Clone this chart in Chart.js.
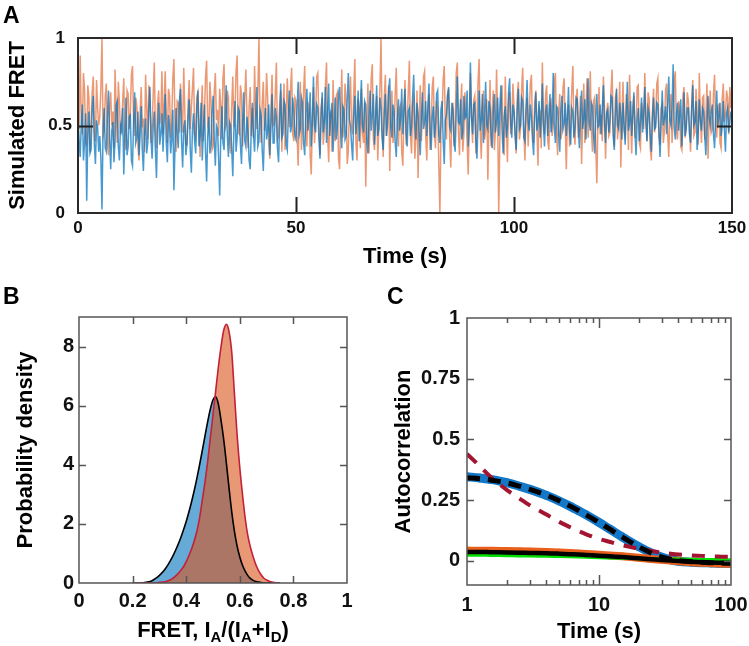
<!DOCTYPE html>
<html><head><meta charset="utf-8">
<script src="https://cdn.jsdelivr.net/npm/chart.js@4.4.1/dist/chart.umd.min.js"></script>
<style>
html,body{margin:0;padding:0;background:#fff;}
#wrap{position:relative;width:749px;height:646px;overflow:hidden;background:#fff;}
canvas{position:absolute;}
.lbl{position:absolute;font:bold 23px 'Liberation Sans',Arial,sans-serif;line-height:23px;color:#000;}
</style></head><body>
<div id="wrap">
<canvas id="cA" width="749" height="280" style="left:0;top:0"></canvas>
<canvas id="cB" width="370" height="356" style="left:0;top:290px"></canvas>
<canvas id="cC" width="379" height="356" style="left:370px;top:290px"></canvas>
<div class="lbl" style="left:3px;top:4px">A</div>
<div class="lbl" style="left:3px;top:285px">B</div>
<div class="lbl" style="left:387px;top:285px">C</div>
</div>
<script>
const FONT = "'Liberation Sans', Arial, Helvetica, sans-serif";

// ---------- Panel A: simulated FRET traces (sampled every 0.25 s) ----------
const sampleStepA = 0.25;
const fretOrange = [
0.62,0.48,0.9,0.55,0.45,0.8,0.71,0.42,0.38,0.73,0.66,0.35,0.52,0.69,0.78,0.46,0.41,0.76,0.6,0.5,
0.55,0.72,1.0,0.44,0.47,0.67,0.74,0.39,0.33,0.61,0.69,0.5,0.58,0.37,0.82,0.6,0.4,0.75,0.63,0.45,
0.5,0.64,0.77,0.41,0.36,0.7,0.68,0.48,0.57,0.79,0.84,0.53,0.44,0.66,0.61,0.38,0.3,0.58,0.72,0.49,
0.54,0.35,0.79,0.6,0.42,0.73,0.65,0.4,0.49,0.68,0.86,0.47,0.37,0.62,0.7,0.51,0.56,0.81,0.45,0.63,
0.81,0.55,0.4,0.71,0.67,0.43,0.52,0.77,0.88,0.5,0.35,0.64,0.63,0.46,0.74,0.57,0.46,0.83,0.58,0.39,
0.39,0.62,0.76,0.48,0.6,0.71,0.83,0.45,0.43,0.66,0.69,0.52,0.32,0.58,0.73,0.41,0.55,0.78,0.87,0.5,
0.47,0.75,0.64,0.36,0.38,0.69,0.8,0.53,0.59,0.44,0.71,0.62,0.42,0.77,0.85,0.48,0.5,0.7,0.66,0.4,
0.34,0.6,0.78,0.49,0.57,0.81,0.9,0.46,0.45,0.73,0.68,0.38,0.53,0.65,0.82,0.56,0.37,0.61,0.72,0.44,
0.6,0.43,0.84,0.58,0.48,0.7,1.0,0.52,0.4,0.63,0.75,0.47,0.56,0.8,0.66,0.39,0.31,0.59,0.79,0.5,
0.51,0.68,0.86,0.42,0.44,0.62,0.7,0.35,0.58,0.74,0.36,0.55,0.77,0.6,0.49,0.71,0.83,0.45,0.41,0.66,
0.64,0.44,0.27,0.58,0.75,0.36,0.5,0.7,0.84,0.47,0.38,0.63,0.61,0.33,0.22,0.54,0.72,0.4,0.55,0.78,
0.8,0.52,0.33,0.6,0.66,0.39,0.47,0.73,0.86,0.45,0.29,0.57,0.58,0.35,0.76,0.5,0.41,0.67,0.69,0.31,
0.25,0.56,0.82,0.43,0.52,0.74,0.63,0.28,0.35,0.61,0.78,0.49,0.45,0.69,0.88,0.4,0.3,0.65,0.6,0.37,
0.71,0.46,0.4,0.63,0.15,0.5,0.74,0.34,0.53,0.77,0.85,0.42,0.36,0.59,0.67,0.3,0.49,0.72,1.0,0.48,
0.32,0.66,0.79,0.44,0.57,0.73,0.24,0.55,0.7,0.4,0.46,0.68,0.83,0.51,0.38,0.6,0.62,0.35,0.27,0.58,
0.76,0.39,0.51,0.69,0.87,0.45,0.34,0.62,0.65,0.31,0.43,0.7,0.2,0.52,0.73,0.41,0.56,0.78,0.81,0.44,
0.3,0.59,0.68,0.36,0.48,0.72,0.78,0.45,0.37,0.64,0.6,0.28,0.0,0.47,0.55,0.76,0.84,0.5,0.42,0.67,
0.71,0.43,0.26,0.57,0.63,0.38,0.5,0.8,0.86,0.46,0.33,0.61,0.74,0.35,0.45,0.69,0.58,0.4,0.22,0.54,
0.8,0.56,0.4,0.64,0.67,0.34,0.53,0.75,0.88,0.48,0.31,0.6,0.7,0.42,0.47,0.65,0.19,0.51,0.76,0.38,
0.57,0.7,0.36,0.48,0.82,0.55,0.0,0.41,0.64,0.73,0.44,0.33,0.78,0.5,0.29,0.62,0.69,0.45,0.52,0.74,
0.61,0.45,0.34,0.67,0.75,0.42,0.48,0.71,0.83,0.5,0.3,0.58,0.66,0.38,0.55,0.74,0.79,0.46,0.4,0.63,
0.7,0.49,0.27,0.6,0.58,0.37,0.86,0.52,0.45,0.68,0.73,0.41,0.36,0.62,0.64,0.44,0.51,0.76,0.8,0.47,
0.33,0.57,0.68,0.42,0.47,0.72,0.77,0.5,0.25,0.55,0.62,0.38,0.54,0.7,0.84,0.46,0.39,0.65,0.71,0.43,
0.5,0.67,0.28,0.53,0.74,0.4,0.59,0.77,0.43,0.6,0.81,0.48,0.35,0.64,0.66,0.39,0.17,0.52,0.72,0.45,
0.56,0.41,0.78,0.6,0.31,0.58,0.63,0.44,0.46,0.7,0.82,0.5,0.38,0.66,0.69,0.42,0.52,0.75,0.26,0.55,
0.75,0.47,0.44,0.68,0.6,0.36,0.79,0.54,0.34,0.61,0.67,0.43,0.49,0.72,0.73,0.4,0.37,0.63,0.58,0.48,
0.8,0.55,0.41,0.69,0.65,0.37,0.3,0.57,0.71,0.46,0.53,0.74,0.77,0.44,0.39,0.6,0.62,0.4,0.47,0.7,
0.74,0.45,0.32,0.59,0.68,0.4,0.55,0.76,0.81,0.49,0.42,0.64,0.6,0.38,0.36,0.67,0.72,0.43,0.5,0.69,
0.64,0.48,0.35,0.62,0.76,0.44,0.46,0.71,0.58,0.39,0.8,0.53,0.4,0.66,0.67,0.42,0.53,0.74,0.31,0.56,
0.7,0.46,0.48,0.68,0.79,0.5,0.43,0.61,0.62,0.4,0.37,0.65,0.74,0.52,0.56,0.7,0.66,0.45,0.72,0.6];
const fretBlue = [
0.55,0.42,0.32,0.51,0.62,0.3,0.4,0.57,0.07,0.45,0.58,0.34,0.36,0.6,0.67,0.39,0.28,0.53,0.49,0.35,
0.44,0.31,0.02,0.48,0.6,0.37,0.35,0.56,0.7,0.43,0.25,0.47,0.52,0.29,0.41,0.62,0.64,0.38,0.3,0.5,
0.47,0.6,0.22,0.44,0.66,0.33,0.38,0.55,0.56,0.3,0.27,0.52,0.69,0.4,0.43,0.58,0.33,0.46,0.61,0.36,
0.24,0.45,0.54,0.34,0.4,0.61,0.72,0.42,0.31,0.5,0.58,0.36,0.2,0.48,0.63,0.39,0.45,0.57,0.35,0.52,
0.68,0.4,0.29,0.56,0.5,0.34,0.42,0.59,0.13,0.38,0.6,0.45,0.37,0.64,0.71,0.41,0.26,0.49,0.53,0.33,
0.4,0.55,0.65,0.36,0.23,0.48,0.57,0.41,0.34,0.6,0.7,0.38,0.44,0.63,0.3,0.46,0.62,0.35,0.18,0.44,
0.55,0.34,0.39,0.58,0.67,0.42,0.27,0.5,0.48,0.31,0.1,0.45,0.61,0.4,0.36,0.56,0.73,0.44,0.32,0.52,
0.5,0.37,0.21,0.47,0.64,0.35,0.43,0.6,0.58,0.39,0.28,0.51,0.69,0.41,0.38,0.55,0.46,0.3,0.25,0.49,
0.63,0.44,0.35,0.54,0.72,0.38,0.41,0.59,0.56,0.36,0.24,0.46,0.6,0.42,0.47,0.62,0.33,0.5,0.68,0.4,
0.4,0.6,0.55,0.37,0.29,0.52,0.74,0.43,0.45,0.64,0.62,0.39,0.36,0.57,0.7,0.46,0.5,0.66,0.58,0.44,
0.42,0.6,0.75,0.45,0.48,0.66,0.63,0.4,0.33,0.57,0.71,0.47,0.55,0.69,0.38,0.52,0.78,0.5,0.46,0.62,
0.6,0.43,0.31,0.55,0.69,0.46,0.52,0.72,0.4,0.58,0.74,0.44,0.57,0.63,0.35,0.51,0.66,0.42,0.49,0.68,
0.72,0.48,0.37,0.61,0.59,0.42,0.44,0.65,0.8,0.53,0.5,0.39,0.3,0.56,0.67,0.45,0.54,0.7,0.41,0.6,
0.76,0.5,0.46,0.64,0.62,0.41,0.34,0.55,0.7,0.47,0.56,0.68,0.39,0.52,0.73,0.44,0.48,0.66,0.6,0.43,
0.36,0.57,0.68,0.44,0.51,0.7,0.77,0.49,0.43,0.62,0.58,0.4,0.32,0.54,0.65,0.47,0.53,0.71,0.45,0.59,
0.71,0.46,0.38,0.58,0.6,0.44,0.49,0.67,0.79,0.51,0.42,0.63,0.57,0.45,0.33,0.55,0.69,0.48,0.52,0.64,
0.44,0.6,0.74,0.47,0.36,0.55,0.61,0.43,0.5,0.68,0.7,0.45,0.4,0.59,0.64,0.42,0.28,0.53,0.56,0.67,
0.72,0.49,0.47,0.63,0.59,0.41,0.35,0.57,0.78,0.52,0.51,0.65,0.42,0.46,0.67,0.54,0.55,0.7,0.38,0.5,
0.86,0.55,0.45,0.62,0.63,0.42,0.31,0.51,0.7,0.47,0.53,0.68,0.4,0.56,0.75,0.5,0.48,0.64,0.6,0.44,
0.37,0.58,0.68,0.46,0.52,0.66,0.44,0.6,0.73,0.48,0.34,0.55,0.61,0.43,0.49,0.69,0.77,0.51,0.43,0.62,
0.58,0.45,0.36,0.6,0.71,0.48,0.5,0.66,0.64,0.43,0.41,0.59,0.76,0.52,0.47,0.62,0.55,0.42,0.33,0.56,
0.69,0.47,0.52,0.64,0.43,0.55,0.74,0.5,0.38,0.58,0.62,0.44,0.57,0.68,0.46,0.53,0.8,0.49,0.4,0.61,
0.6,0.46,0.35,0.57,0.67,0.48,0.51,0.63,0.44,0.55,0.72,0.47,0.39,0.6,0.58,0.43,0.49,0.66,0.65,0.5,
0.37,0.56,0.7,0.48,0.54,0.65,0.42,0.59,0.77,0.52,0.47,0.63,0.61,0.45,0.34,0.55,0.68,0.49,0.5,0.62,
0.45,0.6,0.73,0.51,0.4,0.57,0.59,0.46,0.53,0.67,0.66,0.44,0.36,0.55,0.71,0.5,0.48,0.63,0.56,0.42,
0.63,0.5,0.39,0.58,0.75,0.47,0.51,0.64,0.44,0.56,0.69,0.45,0.33,0.53,0.6,0.41,0.52,0.66,0.46,0.57,
0.72,0.52,0.41,0.6,0.57,0.44,0.35,0.55,0.66,0.48,0.49,0.63,0.62,0.46,0.32,0.53,0.7,0.5,0.54,0.61,
0.45,0.62,0.78,0.53,0.5,0.6,0.85,0.49,0.42,0.57,0.63,0.47,0.56,0.65,0.38,0.52,0.69,0.44,0.48,0.6,
0.6,0.45,0.4,0.59,0.73,0.5,0.52,0.64,0.36,0.47,0.65,0.53,0.47,0.6,0.58,0.44,0.33,0.51,0.67,0.55,
0.5,0.58,0.62,0.45,0.37,0.54,0.7,0.49,0.55,0.63,0.44,0.5,0.64,0.48,0.35,0.57,0.6,0.46,0.52,0.58];
const xTicksA = [0, 50, 100, 150];
const yTicksA = [0, 0.5, 1];

// ---------- Panel B: FRET probability densities ----------
const fretGridB = [0.20,0.21,0.22,0.23,0.24,0.25,0.26,0.27,0.28,0.29,
0.30,0.31,0.32,0.33,0.34,0.35,0.36,0.37,0.38,0.39,
0.40,0.41,0.42,0.43,0.44,0.45,0.46,0.47,0.48,0.49,
0.50,0.51,0.52,0.53,0.54,0.55,0.56,0.57,0.58,0.59,
0.60,0.61,0.62,0.63,0.64,0.65,0.66,0.67,0.68,0.69,
0.70,0.71,0.72,0.73,0.74,0.75];
const densOrange = [0,0,0,0,0,0,0,0,0.005,0.01,
0.02,0.03,0.045,0.07,0.1,0.16,0.23,0.32,0.43,0.55,
0.72,0.92,1.15,1.42,1.75,2.2,2.8,3.4,4.1,4.9,
5.7,6.5,7.3,8.0,8.55,8.75,8.5,7.8,6.4,5.0,
3.9,3.0,2.2,1.6,1.2,0.88,0.62,0.42,0.27,0.16,
0.1,0.06,0.03,0.015,0.005,0];
const densBlue = [0,0,0,0,0.01,0.02,0.04,0.07,0.12,0.18,
0.26,0.35,0.46,0.59,0.74,0.91,1.1,1.31,1.54,1.8,
2.08,2.4,2.75,3.13,3.55,4.0,4.48,4.97,5.45,5.88,
6.2,6.3,6.05,5.5,4.85,4.05,3.2,2.4,1.75,1.25,
0.88,0.6,0.4,0.25,0.15,0.09,0.05,0.03,0.015,0.005,
0,0,0,0,0,0];
const xTicksB = [0, 0.2, 0.4, 0.6, 0.8, 1];
const yTicksB = [0, 2, 4, 6, 8];

// ---------- Panel C: autocorrelation ----------
const lagC = [1,1.25,1.5,2,2.5,3,4,5,6,7,8,10,12,15,20,25,30,35,40,50,60,70,80,90,100];
const acfBlue   = [0.346,0.341,0.335,0.322,0.307,0.294,0.269,0.246,0.225,0.206,0.189,0.158,0.131,0.098,0.058,0.031,0.014,0.004,-0.002,-0.006,-0.008,-0.009,-0.010,-0.011,-0.011];
const fitBlue   = [0.342,0.338,0.333,0.321,0.307,0.294,0.270,0.247,0.226,0.207,0.189,0.158,0.131,0.098,0.058,0.031,0.015,0.006,0.001,-0.004,-0.006,-0.008,-0.009,-0.010,-0.010];
const fitRed    = [0.44,0.39,0.347,0.292,0.256,0.228,0.19,0.16,0.139,0.122,0.109,0.09,0.078,0.064,0.05,0.04,0.033,0.029,0.026,0.022,0.02,0.018,0.017,0.016,0.016];
const acfOrange = [0.042,0.041,0.041,0.040,0.039,0.038,0.036,0.034,0.032,0.030,0.028,0.025,0.022,0.018,0.012,0.007,0.004,0.001,-0.002,-0.006,-0.008,-0.010,-0.011,-0.012,-0.012];
const fitOrange = [0.036,0.036,0.035,0.034,0.033,0.032,0.031,0.029,0.027,0.026,0.024,0.021,0.018,0.015,0.010,0.006,0.003,0.001,-0.001,-0.004,-0.006,-0.007,-0.008,-0.009,-0.009];
const fitGreen  = [0.024,0.024,0.023,0.022,0.021,0.021,0.019,0.018,0.017,0.016,0.015,0.013,0.012,0.011,0.009,0.008,0.007,0.006,0.006,0.005,0.004,0.004,0.004,0.003,0.003];
const xMajorC = [1, 10, 100];
const xMinorC = [2,3,4,5,6,7,8,9,20,30,40,50,60,70,80,90];
const yTicksC = [0, 0.25, 0.5, 0.75, 1];

// ---------- helpers ----------
Chart.defaults.font.family = FONT;
Chart.defaults.font.weight = 'bold';
Chart.defaults.color = '#111';
Chart.defaults.animation = false;

const frameTicks = {
  id: 'frameTicks',
  afterDatasetsDraw(chart, args, o) {
    const {ctx, chartArea: a, scales} = chart;
    const xs = scales.x, ys = scales.y;
    ctx.save();
    ctx.strokeStyle = o.tickColor; ctx.lineWidth = o.tickWidth;
    ctx.beginPath();
    const vx = (list, len) => (list || []).forEach(v => {
      if (v <= xs.min || v >= xs.max) return;
      const p = Math.round(xs.getPixelForValue(v)) + 0.5;
      ctx.moveTo(p, a.bottom); ctx.lineTo(p, a.bottom - len);
      ctx.moveTo(p, a.top); ctx.lineTo(p, a.top + len);
    });
    const vy = (list, len) => (list || []).forEach(v => {
      if (v <= ys.min || v >= ys.max) return;
      const p = Math.round(ys.getPixelForValue(v)) + 0.5;
      ctx.moveTo(a.left, p); ctx.lineTo(a.left + len, p);
      ctx.moveTo(a.right, p); ctx.lineTo(a.right - len, p);
    });
    vx(o.xMajor, o.xLen); vx(o.xMinor, o.xMinorLen); vy(o.yMajor, o.yLen);
    ctx.stroke();
    ctx.strokeStyle = o.frameColor; ctx.lineWidth = o.frameWidth;
    ctx.strokeRect(a.left, a.top, a.right - a.left, a.bottom - a.top);
    ctx.restore();
  }
};

const subTitle = {
  id: 'subTitle',
  afterDraw(chart, args, o) {
    if (!o.parts) return;
    const ctx = chart.ctx, xs = chart.scales.x;
    const cx = (xs.left + xs.right) / 2, by = xs.top + o.offset;
    ctx.save();
    ctx.fillStyle = '#000'; ctx.textBaseline = 'alphabetic'; ctx.textAlign = 'left';
    const f = p => `bold ${p.sub ? o.subSize : o.size}px ${FONT}`;
    let w = 0;
    o.parts.forEach(p => { ctx.font = f(p); w += ctx.measureText(p.t).width; });
    let x = cx - w / 2;
    o.parts.forEach(p => { ctx.font = f(p); ctx.fillText(p.t, x, by + (p.sub ? o.subShift : 0)); x += ctx.measureText(p.t).width; });
    ctx.restore();
  }
};

const setTicks = arr => s => { s.ticks = arr.map(v => ({value: v})); };
const fixH = h => s => { s.height = h; s.paddingLeft = 0; s.paddingRight = 0; s.paddingTop = 0; s.paddingBottom = 0; };
const fixW = w => s => { s.width = w; s.paddingLeft = 0; s.paddingRight = 0; s.paddingTop = 0; s.paddingBottom = 0; };
const noGrid = {display: false, drawTicks: false};
const noBorder = {display: false};
const fmt = v => String(v);

// ---------- Chart A ----------
const timeA = fretBlue.map((_, i) => i * sampleStepA);
new Chart(document.getElementById('cA'), {
  type: 'line',
  data: {
    datasets: [
      {data: fretBlue.map((v, i) => ({x: timeA[i], y: v})), borderColor: 'rgba(0,114,189,0.72)', borderWidth: 1.5, pointRadius: 0, tension: 0},
      {data: fretOrange.map((v, i) => ({x: timeA[i], y: v})), borderColor: 'rgba(222,88,30,0.62)', borderWidth: 1.5, pointRadius: 0, tension: 0}
    ]
  },
  options: {
    responsive: false, animation: false,
    layout: {padding: {left: 0, top: 38, right: 17, bottom: 7}},
    plugins: {legend: {display: false}, tooltip: {enabled: false},
      frameTicks: {xMajor: xTicksA, yMajor: yTicksA, xLen: 16, yLen: 15, tickColor: '#222', tickWidth: 2, frameColor: '#2a2a2a', frameWidth: 2}},
    scales: {
      x: {type: 'linear', min: 0, max: 150, afterBuildTicks: setTicks(xTicksA), afterFit: fixH(60),
        grid: noGrid, border: noBorder,
        ticks: {font: {size: 17, weight: 'bold'}, padding: 5, maxRotation: 0, autoSkip: false, callback: fmt},
        title: {display: true, text: 'Time (s)', color: '#000', font: {size: 22, weight: 'bold'}, padding: {top: 0, bottom: 3}}},
      y: {min: 0, max: 1, afterBuildTicks: setTicks(yTicksA), afterFit: fixW(78),
        grid: noGrid, border: noBorder,
        ticks: {font: {size: 17, weight: 'bold'}, padding: 6, crossAlign: 'center', callback: fmt},
        title: {display: true, text: 'Simulated FRET', color: '#000', font: {size: 22, weight: 'bold'}, padding: {top: 5, bottom: 0}}}
    }
  },
  plugins: [frameTicks]
});

// ---------- Chart B ----------
new Chart(document.getElementById('cB'), {
  type: 'line',
  data: {
    datasets: [
      {data: densOrange.map((v, i) => ({x: fretGridB[i], y: v})), borderColor: '#c4203a', borderWidth: 1.6,
        backgroundColor: 'rgba(217,83,25,0.6)', fill: {target: 'origin'}, pointRadius: 0, cubicInterpolationMode: 'monotone'},
      {data: densBlue.map((v, i) => ({x: fretGridB[i], y: v})), borderColor: '#000', borderWidth: 1.6,
        backgroundColor: 'rgba(0,114,189,0.6)', fill: {target: 'origin'}, pointRadius: 0, cubicInterpolationMode: 'monotone'}
    ]
  },
  options: {
    responsive: false, animation: false,
    layout: {padding: {left: 0, top: 27, right: 23, bottom: 3}},
    plugins: {legend: {display: false}, tooltip: {enabled: false},
      filler: {drawTime: 'beforeDatasetsDraw'},
      frameTicks: {xMajor: xTicksB, yMajor: yTicksB, xLen: 7, yLen: 7, tickColor: '#555', tickWidth: 1.5, frameColor: '#555', frameWidth: 1.5},
      subTitle: {parts: [{t: 'FRET, I'}, {t: 'A', sub: true}, {t: '/(I'}, {t: 'A', sub: true}, {t: '+I'}, {t: 'D', sub: true}, {t: ')'}],
        size: 22, subSize: 15, subShift: 5, offset: 54}},
    scales: {
      x: {type: 'linear', min: 0, max: 1, afterBuildTicks: setTicks(xTicksB), afterFit: fixH(60),
        grid: noGrid, border: noBorder,
        ticks: {font: {size: 20, weight: 'bold'}, padding: 6, maxRotation: 0, autoSkip: false, callback: fmt},
        title: {display: false}},
      y: {min: 0, max: 9, afterBuildTicks: setTicks(yTicksB), afterFit: fixW(79),
        grid: noGrid, border: noBorder,
        ticks: {font: {size: 20, weight: 'bold'}, padding: 5, callback: fmt},
        title: {display: true, text: 'Probability density', color: '#000', font: {size: 22, weight: 'bold'}, padding: {top: 13, bottom: 0}}}
    }
  },
  plugins: [frameTicks, subTitle]
});

// ---------- Chart C ----------
const ptsC = arr => arr.map((v, i) => ({x: lagC[i], y: v}));
const C_BLUE = 'rgb(20,120,200)', C_ORANGE = 'rgb(232,96,28)';
new Chart(document.getElementById('cC'), {
  type: 'line',
  data: {
    datasets: [
      {data: ptsC(fitBlue), borderColor: '#000', borderWidth: 5, borderDash: [13, 8], pointRadius: 0, cubicInterpolationMode: 'monotone'},
      {data: ptsC(fitRed), borderColor: '#a2142f', borderWidth: 4, borderDash: [13, 10], pointRadius: 0, cubicInterpolationMode: 'monotone'},
      {data: ptsC(fitOrange), borderColor: '#000', borderWidth: 4.5, pointRadius: 0, cubicInterpolationMode: 'monotone'},
      {data: ptsC(fitGreen), borderColor: '#00e000', borderWidth: 3.5, pointRadius: 0, cubicInterpolationMode: 'monotone'},
      {data: ptsC(acfOrange), borderColor: C_ORANGE, borderWidth: 8, pointRadius: 3, pointBorderWidth: 1.5,
        pointBorderColor: C_ORANGE, pointBackgroundColor: 'rgba(0,0,0,0)', cubicInterpolationMode: 'monotone'},
      {data: ptsC(acfBlue), borderColor: C_BLUE, borderWidth: 9, pointRadius: 3.5, pointBorderWidth: 1.5,
        pointBorderColor: C_BLUE, pointBackgroundColor: 'rgba(0,0,0,0)', cubicInterpolationMode: 'monotone'}
    ]
  },
  options: {
    responsive: false, animation: false,
    layout: {padding: {left: 0, top: 28, right: 18, bottom: 1}},
    plugins: {legend: {display: false}, tooltip: {enabled: false},
      frameTicks: {xMajor: xMajorC, xMinor: xMinorC, yMajor: yTicksC, xLen: 10, xMinorLen: 5, yLen: 7, tickColor: '#555', tickWidth: 1.5, frameColor: '#555', frameWidth: 1.5}},
    scales: {
      x: {type: 'logarithmic', min: 1, max: 100, afterBuildTicks: setTicks(xMajorC), afterFit: fixH(60),
        grid: noGrid, border: noBorder,
        ticks: {font: {size: 20, weight: 'bold'}, padding: 8, maxRotation: 0, autoSkip: false, callback: fmt},
        title: {display: true, text: 'Time (s)', color: '#000', font: {size: 22, weight: 'bold'}, padding: {top: 0, bottom: 0}}},
      y: {min: -0.1, max: 1, afterBuildTicks: setTicks(yTicksC), afterFit: fixW(97),
        grid: noGrid, border: noBorder,
        ticks: {font: {size: 20, weight: 'bold'}, padding: 7, callback: fmt},
        title: {display: true, text: 'Autocorrelation', color: '#000', font: {size: 22, weight: 'bold'}, padding: {top: 21, bottom: 0}}}
    }
  },
  plugins: [frameTicks]
});
</script>
</body></html>
